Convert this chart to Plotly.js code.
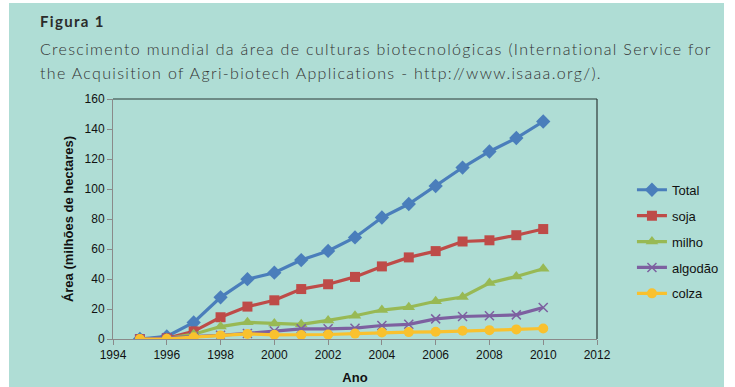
<!DOCTYPE html>
<html>
<head>
<meta charset="utf-8">
<script src="https://cdn.plot.ly/plotly-3.0.1.min.js"></script>
<style>
html,body{margin:0;padding:0;background:#ffffff;}
#wrap{position:absolute;left:9px;top:3px;width:715px;height:384px;background:#afddd5;}
#chart{position:absolute;left:0;top:0;width:735px;height:387px;}
.annotation-text{letter-spacing:1.32px;}
</style>
</head>
<body>
<div id="wrap"></div>
<div id="chart"></div>
<script>
const years = [1995,1996,1997,1998,1999,2000,2001,2002,2003,2004,2005,2006,2007,2008,2009,2010];
const total   = [0, 1.7, 11, 27.8, 39.9, 44.2, 52.6, 58.7, 67.7, 81, 90, 102, 114.3, 125, 134, 145];
const soja    = [0, 0.5, 5.1, 14.5, 21.6, 25.8, 33.3, 36.5, 41.4, 48.4, 54.4, 58.6, 65, 65.8, 69.2, 73.3];
const milho   = [0, 0.3, 3.2, 8.3, 11.1, 10.3, 9.8, 12.4, 15.5, 19.3, 21.2, 25.2, 28, 37.3, 41.7, 46.8];
const algodao = [0, 0.8, 1.4, 2.5, 3.7, 5.3, 6.8, 6.8, 7.2, 9, 9.8, 13.4, 15, 15.5, 16.1, 21];
const colza   = [0, 0.1, 1.2, 2.4, 3.4, 2.8, 2.7, 3, 3.6, 4.3, 4.6, 4.8, 5.5, 5.9, 6.4, 7];
const seriesNames = ['Total','soja','milho','algodão','colza'];
const xTicks = [1994,1996,1998,2000,2002,2004,2006,2008,2010,2012];
const yTicks = [0,20,40,60,80,100,120,140,160];

const dataArr = [total, soja, milho, algodao, colza];
const colors = ['#4a7ebb','#be4b48','#98b954','#7d60a0','#f9c12e'];
const symbols = ['diamond','square','triangle-up','x-thin','circle'];
const sizes = [11,10,11,9,10];

const traces = dataArr.map((d,i)=>({
  x: years, y: d, name: seriesNames[i], type:'scatter', mode:'lines+markers',
  legendgroup: 'g'+i,
  line:{color:colors[i], width:3.2},
  marker:{symbol:symbols[i], size:sizes[i], color:colors[i],
          line:{color:colors[i], width: symbols[i]==='x-thin'?1.5:0}}
}));

const layout = {
  width:735, height:387,
  paper_bgcolor:'rgba(0,0,0,0)', plot_bgcolor:'rgba(0,0,0,0)',
  margin:{l:113, r:137, t:99, b:48},
  showlegend:true,
  legend:{x:1.07, xanchor:'left', y:0.405, yanchor:'middle', traceorder:'grouped', tracegroupgap:6,
          font:{family:'Liberation Sans, Arial', size:13, color:'#111'}, bgcolor:'rgba(0,0,0,0)'},
  xaxis:{range:[1994,2012], tickvals:xTicks, ticktext:xTicks.map(String), showgrid:false, zeroline:false,
         showline:true, linecolor:'#8a8a8a', linewidth:1, ticks:'outside', ticklen:5, tickcolor:'#8a8a8a',
         tickfont:{family:'Liberation Sans, Arial', size:12, color:'#111'},
         title:{text:'<b>Ano</b>', font:{family:'Liberation Sans, Arial', size:13, color:'#111'}, standoff:11}},
  yaxis:{range:[0,160], tickvals:yTicks, ticktext:yTicks.map(String), showgrid:false, zeroline:false,
         showline:true, linecolor:'#8a8a8a', linewidth:1, ticks:'outside', ticklen:5, tickcolor:'#8a8a8a',
         tickfont:{family:'Liberation Sans, Arial', size:12, color:'#111'},
         title:{text:'<b>Área (milhões de hectares)</b>', font:{family:'Liberation Sans, Arial', size:13, color:'#111'}, standoff:8}},
  shapes:[
    {type:'line', xref:'paper', yref:'paper', x0:0, x1:1, y0:1, y1:1, line:{color:'#2d3a38', width:1.2}},
    {type:'line', xref:'paper', yref:'paper', x0:1, x1:1, y0:0, y1:1, line:{color:'#2d3a38', width:1.2}}
  ],
  annotations:[
    {text:'<b>Figura 1</b>', xref:'paper', yref:'paper', x:(38-113)/485, y:1+(99-21)/240, xanchor:'left', yanchor:'middle',
     showarrow:false, font:{family:'Lato, Noto Sans', size:15, color:'#2b2b2b'}},
    {text:'Crescimento mundial da área de culturas biotecnológicas (International Service for', xref:'paper', yref:'paper',
     x:(38-113)/485, y:1+(99-48)/240, xanchor:'left', yanchor:'middle', showarrow:false,
     font:{family:'Lato, Noto Sans', size:16, color:'#333333', weight:300}},
    {text:'the Acquisition of Agri-biotech Applications - http://www.isaaa.org/).', xref:'paper', yref:'paper',
     x:(38-113)/485, y:1+(99-73)/240, xanchor:'left', yanchor:'middle', showarrow:false,
     font:{family:'Lato, Noto Sans', size:16, color:'#333333', weight:300}}
  ]
};
Plotly.newPlot('chart', traces, layout, {displayModeBar:false, staticPlot:true});
</script>
</body>
</html>
